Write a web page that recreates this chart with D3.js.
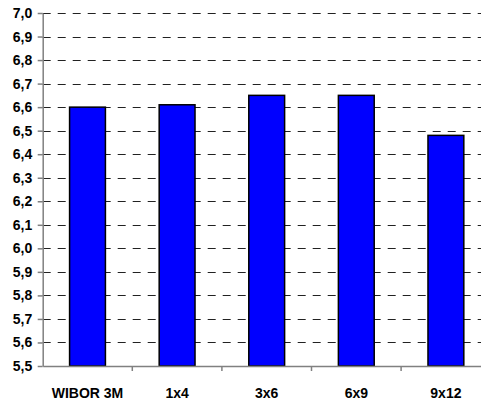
<!DOCTYPE html>
<html>
<head>
<meta charset="utf-8">
<script src="https://cdn.jsdelivr.net/npm/d3@7"></script>
<style>
  html, body { margin: 0; padding: 0; background: #fff; overflow: hidden; }
  svg { display: block; }
</style>
</head>
<body>
<svg id="chart" width="481" height="400"></svg>
<script>
(function(){
// --- Data ---
const categories = ["WIBOR 3M", "1x4", "3x6", "6x9", "9x12"];
const values = [6.60, 6.61, 6.65, 6.65, 6.48];
const yTicks = [5.5, 5.6, 5.7, 5.8, 5.9, 6.0, 6.1, 6.2, 6.3, 6.4, 6.5, 6.6, 6.7, 6.8, 6.9, 7.0];

const margin = { left: 42.7, top: 13, bottom: 366 };
const plotRight = 490.7; // plot runs past the picture edge

const svg = d3.select("#chart");

// --- Scales ---
const x = d3.scaleBand()
  .domain(categories)
  .range([margin.left, plotRight])
  .paddingInner(0.6)
  .paddingOuter(0.3);

const y = d3.scaleLinear()
  .domain([5.5, 7.0])
  .range([margin.bottom, margin.top]);

const fmt = d => d3.format(".1f")(d).replace(".", ",");

// --- Gridlines ---
svg.append("g")
  .selectAll("line")
  .data(yTicks.filter(d => d > 5.5))
  .enter()
  .append("line")
  .attr("x1", margin.left)
  .attr("x2", plotRight)
  .attr("y1", d => Math.round(y(d)) + 0.5)
  .attr("y2", d => Math.round(y(d)) + 0.5)
  .attr("stroke", "#222")
  .attr("stroke-width", 1)
  .attr("stroke-dasharray", "8,7");

// --- Bars ---
svg.append("g")
  .selectAll("rect")
  .data(values)
  .enter()
  .append("rect")
  .attr("x", (d, i) => x(categories[i]))
  .attr("y", d => y(d))
  .attr("width", x.bandwidth())
  .attr("height", d => y(5.5) - y(d))
  .attr("fill", "#0000ff")
  .attr("stroke", "#000")
  .attr("stroke-width", 1.5);

// --- Y axis ---
const yAxis = svg.append("g")
  .attr("transform", `translate(${margin.left},0)`)
  .call(d3.axisLeft(y).tickValues(yTicks).tickFormat(fmt).tickSize(5).tickSizeOuter(0));

// --- X axis ---
const xAxis = svg.append("g")
  .attr("transform", `translate(0,${margin.bottom})`)
  .call(d3.axisBottom(x).tickSize(0).tickSizeOuter(0));

// category boundary ticks
const step = x.step();
svg.append("g")
  .selectAll("line")
  .data(categories.slice(1))
  .enter()
  .append("line")
  .attr("x1", (d, i) => margin.left + step * (i + 1))
  .attr("x2", (d, i) => margin.left + step * (i + 1))
  .attr("y1", margin.bottom)
  .attr("y2", margin.bottom + 5)
  .attr("stroke", "#808080")
  .attr("stroke-width", 1.5);

[yAxis, xAxis].forEach(g => {
  g.select(".domain").attr("stroke", "#808080").attr("stroke-width", 1.5);
  g.selectAll(".tick line").attr("stroke", "#808080").attr("stroke-width", 1.5);
  g.selectAll("text")
    .attr("fill", "#000")
    .attr("font-family", "Liberation Sans, Arial, sans-serif")
    .attr("font-weight", "bold")
    .attr("font-size", 14);
});

yAxis.selectAll("text").attr("x", -10.5);
xAxis.selectAll("text").attr("y", 22);
})();
</script>
</body>
</html>
